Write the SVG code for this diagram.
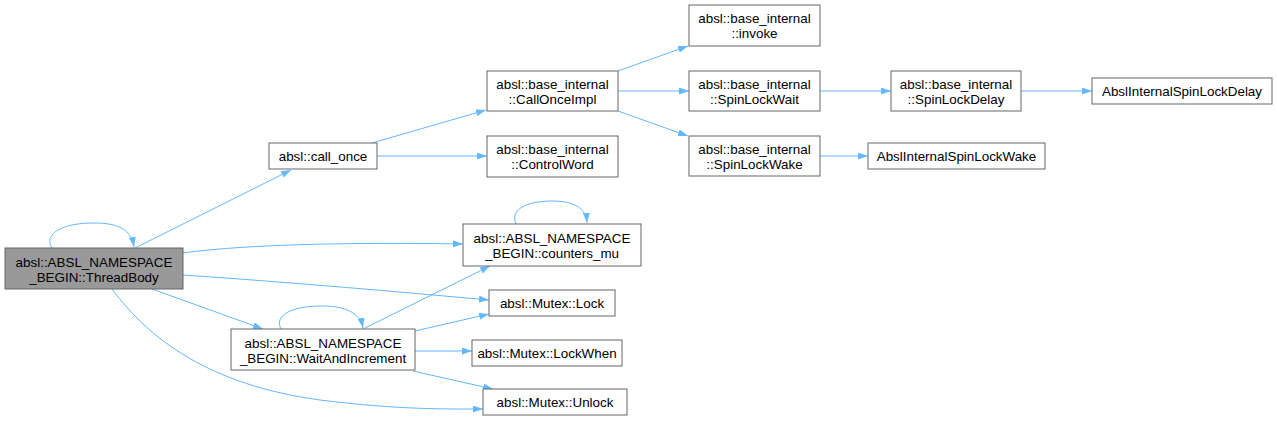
<svg xmlns="http://www.w3.org/2000/svg" width="1277" height="421" viewBox="0 0 1277 421">
<style>
.n rect{fill:#ffffff;stroke:#666666;stroke-width:1}
.n.main rect{fill:#999999}
.n text{font-family:"Liberation Sans",Arial,sans-serif;font-size:13.4px;fill:#000000;text-anchor:middle}
.e path{fill:none;stroke:#63b8ff;stroke-width:1;marker-end:url(#arr)}
</style>
<defs>
<marker id="arr" viewBox="0 0 10 7" markerWidth="10" markerHeight="7" markerUnits="userSpaceOnUse" refX="10" refY="3.5" orient="auto">
<path d="M0,0 L10,3.5 L0,7 z" fill="#63b8ff"/>
</marker>
</defs>
<rect width="1277" height="421" fill="#ffffff"/>
<g class="e" id="edges">
<path d="M52,248 C44,236 58,223 94,223 C118,223 131,229 134,247"/>
<path d="M135,248 L291,170"/>
<path d="M183,253 C240,245 340,242 463,244"/>
<path d="M183,275 C300,283 400,292 489,300"/>
<path d="M152,289 L263,329"/>
<path d="M112,289 C150,340 210,385 320,400 C400,410 450,409 483,409"/>
<path d="M281,329 C274,316 290,306 322,306 C346,306 360,313 363,328"/>
<path d="M363,329 L490,266"/>
<path d="M415,331 L489,314"/>
<path d="M415,351 L472,351"/>
<path d="M413,371 L493,389"/>
<path d="M516,224 C510,211 524,201 552,201 C574,201 586,208 587,223"/>
<path d="M372,143 L486,110"/>
<path d="M377,156 L487,156"/>
<path d="M618,71 L688,46"/>
<path d="M618,91 L689,91"/>
<path d="M618,111 L688,136"/>
<path d="M820,91 L891,91"/>
<path d="M1021,91 L1092,91"/>
<path d="M820,156 L868,156"/>
</g>
<g class="n main" id="node-threadbody">
<rect x="5" y="248" width="178" height="41"/>
<text x="94" y="267">absl::ABSL_NAMESPACE</text>
<text x="94" y="282">_BEGIN::ThreadBody</text>
</g>
<g class="n" id="node-call-once">
<rect x="269" y="143" width="108" height="26"/>
<text x="323" y="160.5">absl::call_once</text>
</g>
<g class="n" id="node-calloonceimpl">
<rect x="487" y="71" width="131" height="40"/>
<text x="552.5" y="89">absl::base_internal</text>
<text x="552.5" y="104">::CallOnceImpl</text>
</g>
<g class="n" id="node-controlword">
<rect x="487" y="136" width="131" height="41"/>
<text x="552.5" y="154">absl::base_internal</text>
<text x="552.5" y="169">::ControlWord</text>
</g>
<g class="n" id="node-invoke">
<rect x="689" y="5" width="131" height="41"/>
<text x="754.5" y="23">absl::base_internal</text>
<text x="754.5" y="38">::invoke</text>
</g>
<g class="n" id="node-spinlockwait">
<rect x="689" y="71" width="131" height="40"/>
<text x="754.5" y="89">absl::base_internal</text>
<text x="754.5" y="104">::SpinLockWait</text>
</g>
<g class="n" id="node-spinlockdelay">
<rect x="891" y="71" width="130" height="40"/>
<text x="956" y="89">absl::base_internal</text>
<text x="956" y="104">::SpinLockDelay</text>
</g>
<g class="n" id="node-spinlockwake">
<rect x="689" y="136" width="131" height="40"/>
<text x="754.5" y="154">absl::base_internal</text>
<text x="754.5" y="169">::SpinLockWake</text>
</g>
<g class="n" id="node-abslspinlockdelay">
<rect x="1092" y="78" width="180" height="26"/>
<text x="1182" y="95.5">AbslInternalSpinLockDelay</text>
</g>
<g class="n" id="node-abslspinlockwake">
<rect x="868" y="143" width="177" height="26"/>
<text x="956.5" y="160.5">AbslInternalSpinLockWake</text>
</g>
<g class="n" id="node-counters-mu">
<rect x="463" y="224" width="178" height="42"/>
<text x="552" y="243">absl::ABSL_NAMESPACE</text>
<text x="552" y="258">_BEGIN::counters_mu</text>
</g>
<g class="n" id="node-lock">
<rect x="489" y="290" width="126" height="26"/>
<text x="552" y="307.5">absl::Mutex::Lock</text>
</g>
<g class="n" id="node-waitandincrement">
<rect x="231" y="329" width="184" height="41"/>
<text x="323" y="348">absl::ABSL_NAMESPACE</text>
<text x="323" y="363">_BEGIN::WaitAndIncrement</text>
</g>
<g class="n" id="node-lockwhen">
<rect x="472" y="340" width="150" height="26"/>
<text x="547" y="357.5">absl::Mutex::LockWhen</text>
</g>
<g class="n" id="node-unlock">
<rect x="483" y="389" width="144" height="26"/>
<text x="555" y="406.5">absl::Mutex::Unlock</text>
</g>
</svg>
